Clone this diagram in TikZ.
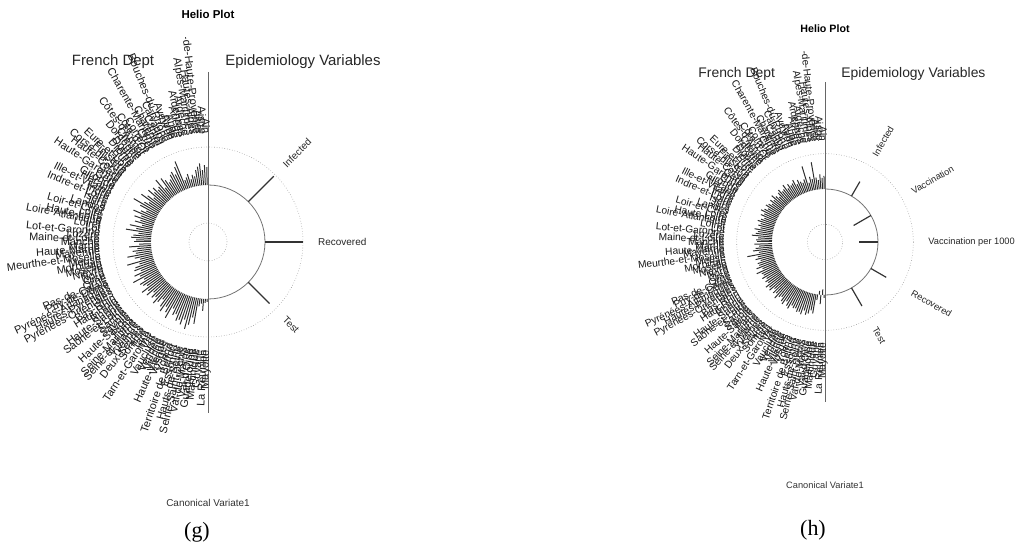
\documentclass[tikz,border=0pt]{standalone}
\usepackage{fontspec}
\setmainfont{Liberation Sans}
\newfontfamily\capfont{Liberation Serif}
\def\deptlist{Ain,Aisne,Allier,Alpes-de-Haute-Provence,Hautes-Alpes,Alpes-Maritimes,Ardèche,Ardennes,Ariège,Aube,Aude,Aveyron,Bouches-du-Rhône,Calvados,Cantal,Charente,Charente-Maritime,Cher,Corrèze,Côte-d'Or,Côtes-d'Armor,Creuse,Dordogne,Doubs,Drôme,Eure,Eure-et-Loir,Finistère,Corse-du-Sud,Haute-Corse,Gard,Haute-Garonne,Gers,Gironde,Hérault,Ille-et-Vilaine,Indre,Indre-et-Loire,Isère,Jura,Landes,Loir-et-Cher,Loire,Haute-Loire,Loire-Atlantique,Loiret,Lot,Lot-et-Garonne,Lozère,Maine-et-Loire,Manche,Marne,Haute-Marne,Mayenne,Meurthe-et-Moselle,Meuse,Morbihan,Moselle,Nièvre,Nord,Oise,Orne,Pas-de-Calais,Puy-de-Dôme,Pyrénées-Atlantiques,Hautes-Pyrénées,Pyrénées-Orientales,Bas-Rhin,Haut-Rhin,Rhône,Haute-Saône,Saône-et-Loire,Sarthe,Savoie,Haute-Savoie,Paris,Seine-Maritime,Seine-et-Marne,Yvelines,Deux-Sèvres,Somme,Tarn,Tarn-et-Garonne,Var,Vaucluse,Vendée,Vienne,Haute-Vienne,Vosges,Yonne,Territoire de Belfort,Essonne,Hauts-de-Seine,Seine-Saint-Denis,Val-de-Marne,Val-d'Oise,Guadeloupe,Martinique,Guyane,La Réunion,Mayotte}
\def\lenA{18,20,15,22,19,16,10,12,8,14,11,9,30,25,18,22,20,16,14,18,22,12,24,17,15,20,16,22,13,19,25,14,18,29,20,12,17,24,15,21,14,19,11,23,16,26,13,18,20,15,17,12,22,14,19,16,25,18,13,27,15,20,22,16,24,19,28,17,23,21,18,26,20,24,17,22,19,25,21,16,23,27,20,25,30,18,24,22,28,26,30,24,33,28,20,26,8,5,12,4,3}
\def\lenB{14,12,16,10,13,30,12,15,9,28,14,11,13,16,12,18,15,14,17,13,19,15,14,18,16,12,15,19,14,17,13,16,18,14,17,20,15,18,13,16,19,15,17,14,20,16,18,22,15,17,16,19,14,18,21,15,28,17,20,15,19,18,22,16,24,19,18,21,17,20,18,23,20,22,17,21,19,24,20,18,22,24,19,23,25,20,22,21,24,23,25,20,24,22,18,21,6,-4,10,-6,3}
\begin{document}
\begin{tikzpicture}[x=1bp,y=1bp,
  dept/.style={font=\fontsize{11}{11}\selectfont, text=black!90, inner sep=0pt, anchor=east},
  varlab/.style={font=\fontsize{10}{10}\selectfont, text=black!85, inner sep=0pt, anchor=west},
  head/.style={font=\fontsize{15}{15}\selectfont, text=black!85, inner sep=0pt},
  ttl/.style={font=\bfseries\fontsize{11.5}{11.5}\selectfont, inner sep=0pt},
  axl/.style={font=\fontsize{10}{10}\selectfont, text=black!80, inner sep=0pt},
  capt/.style={font=\capfont\fontsize{22}{22}\selectfont, inner sep=0pt},
  bar/.style={line width=1pt, draw=black!82},
  vbar/.style={line width=1.2pt, draw=black!80},
  dotc/.style={draw=black!40, dotted, line width=0.6pt},
  solc/.style={draw=black!55, line width=0.8pt},
  axisl/.style={draw=black!60, line width=0.8pt}
]
\useasboundingbox (0,0) rectangle (1016,550);

% ---------- left panel (g) ----------
\begin{scope}[shift={(208,308)}]
  \node[ttl] (t1) at (0,228) {Helio Plot};
  \node[head] (f1) at (-95,180) {French Dept};
  \node[head] (e1) at (95,180) {Epidemiology Variables};
  \draw[dotc] (0,0) circle [radius=19];
  \draw[dotc] (0,0) circle [radius=95];
  \draw[solc] (0,57) arc [start angle=90, end angle=-90, radius=57];
  \foreach \bl [count=\i] in \lenA {
    \pgfmathsetmacro\ang{90+(\i-0.5)/101*180}
    \pgfmathsetmacro\rr{57+\bl}
    \draw[bar] (\ang:57) -- (\ang:\rr);
  }
  \draw[axisl] (0,170) -- (0,-171);
  \draw[vbar] (45:57) -- (45:93);
  \draw[vbar] (0:57) -- (0:95);
  \draw[vbar] (-45:57) -- (-45:87);
  \node[varlab, rotate=45] (g1) at (45:108) {Infected};
  \node[varlab] (g2) at (0:110) {Recovered};
  \node[varlab, rotate=-45] (g3) at (-45:108) {Test};
  \begin{scope}
    \clip (-260,-260) rectangle (4,204);
    \foreach \n [count=\i] in \deptlist {
      \pgfmathsetmacro\ang{90+(\i-0.5)/101*180}
      \node[dept, rotate=\ang-180] (gd\i) at (\ang:108) {\n};
    }
  \end{scope}
  \node[axl] (c1) at (0,-261) {Canonical Variate1};
\end{scope}

% ---------- right panel (h) ----------
\begin{scope}[shift={(825,308)}, scale=0.93, transform shape]
  \node[ttl] (t2) at (0,229) {Helio Plot};
  \node[head] (f2) at (-95,181) {French Dept};
  \node[head] (e2) at (95,181) {Epidemiology Variables};
  \draw[dotc] (0,0) circle [radius=19];
  \draw[dotc] (0,0) circle [radius=95];
  \draw[solc] (0,57) arc [start angle=90, end angle=-90, radius=57];
  \foreach \bl [count=\i] in \lenB {
    \pgfmathsetmacro\ang{90+(\i-0.5)/101*180}
    \pgfmathsetmacro\rr{57+\bl}
    \draw[bar] (\ang:57) -- (\ang:\rr);
  }
  \draw[axisl] (0,172) -- (0,-172);
  \draw[vbar] (60:57) -- (60:75);
  \draw[vbar] (30:57) -- (30:35.5);
  \draw[vbar] (0:57) -- (0:36.5);
  \draw[vbar] (-30:57) -- (-30:76);
  \draw[vbar] (-60:57) -- (-60:79.5);
  \node[varlab, rotate=60] (h1) at (60:107) {Infected};
  \node[varlab, rotate=30] (h2) at (30:108) {Vaccination};
  \node[varlab] (h3) at (0:111) {Vaccination per 1000};
  \node[varlab, rotate=-30] (h4) at (-30:108) {Recovered};
  \node[varlab, rotate=-60] (h5) at (-60:107) {Test};
  \begin{scope}
    \clip (-260,-260) rectangle (4,206);
    \foreach \n [count=\i] in \deptlist {
      \pgfmathsetmacro\ang{90+(\i-0.5)/101*180}
      \node[dept, rotate=\ang-180] (hd\i) at (\ang:108) {\n};
    }
  \end{scope}
  \node[axl] (c2) at (0,-262) {Canonical Variate1};
\end{scope}

\node[capt] (lg) at (197,18) {(g)};
\node[capt] (lh) at (813,20) {(h)};
\end{tikzpicture}
\end{document}
